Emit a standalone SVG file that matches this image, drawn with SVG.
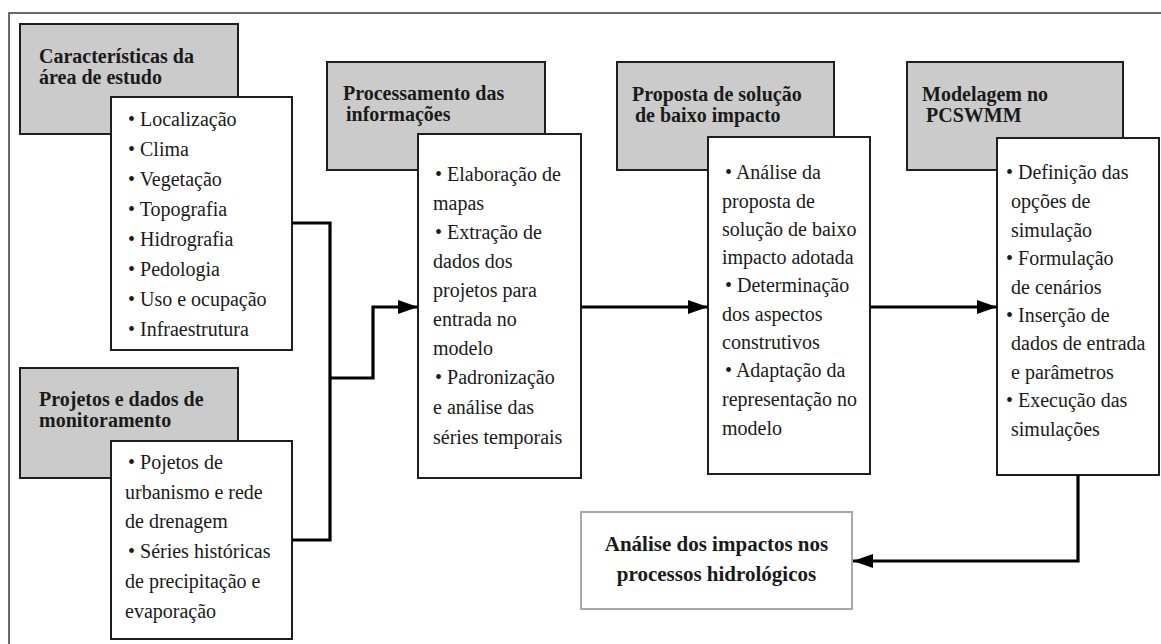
<svg xmlns="http://www.w3.org/2000/svg" width="1161" height="644" viewBox="0 0 1161 644">
<style>
.frame{fill:#fff;stroke:#3a3a3a;stroke-width:1.5}
.g{fill:#cbcbcb;stroke:#1e1e1e;stroke-width:2}
.w{fill:#fff;stroke:#1e1e1e;stroke-width:2}
.wf{fill:#fff;stroke:#a8a8a8;stroke-width:2}
text{font-family:'Liberation Serif','DejaVu Serif','Times New Roman',serif;fill:#1a1a1a}
.t{font-weight:bold;font-size:20px}
.b{font-size:20px}
.c{fill:none;stroke:#000;stroke-width:3.2}
</style>
<defs>
<marker id="ah" markerUnits="userSpaceOnUse" markerWidth="22" markerHeight="16" refX="20" refY="7" orient="auto">
<path d="M0,0 L20,7 L0,14 z" fill="#000"/>
</marker>
</defs>
<rect class="frame" x="9" y="13" width="1200" height="700"/>

<g id="caracteristicas">
<rect class="g" x="20" y="24" width="218" height="110"/>
<text class="t" x="39" y="63">Características da</text>
<text class="t" x="39" y="84">área de estudo</text>
<rect class="w" x="111" y="97" width="181" height="253"/>
<text class="b" x="128" y="126">• Localização</text>
<text class="b" x="128" y="156">• Clima</text>
<text class="b" x="128" y="186">• Vegetação</text>
<text class="b" x="128" y="216">• Topografia</text>
<text class="b" x="128" y="246">• Hidrografia</text>
<text class="b" x="128" y="276">• Pedologia</text>
<text class="b" x="128" y="306">• Uso e ocupação</text>
<text class="b" x="128" y="336">• Infraestrutura</text>
</g>

<g id="projetos">
<rect class="g" x="20" y="368" width="218" height="110"/>
<text class="t" x="39" y="406">Projetos e dados de</text>
<text class="t" x="39" y="427">monitoramento</text>
<rect class="w" x="111" y="441" width="181" height="198"/>
<text class="b" x="128" y="469">• Pojetos de</text>
<text class="b" x="125" y="499">urbanismo e rede</text>
<text class="b" x="125" y="528">de drenagem</text>
<text class="b" x="128" y="558">• Séries históricas</text>
<text class="b" x="125" y="588">de precipitação e</text>
<text class="b" x="125" y="618">evaporação</text>
</g>

<g id="processamento">
<rect class="g" x="327" y="62" width="218" height="108"/>
<text class="t" x="343" y="100">Processamento das</text>
<text class="t" x="346" y="121">informações</text>
<rect class="w" x="418" y="134" width="163" height="344"/>
<text class="b" x="435" y="181">• Elaboração de</text>
<text class="b" x="433" y="210">mapas</text>
<text class="b" x="435" y="239">• Extração de</text>
<text class="b" x="433" y="268">dados dos</text>
<text class="b" x="433" y="297">projetos para</text>
<text class="b" x="433" y="326">entrada no</text>
<text class="b" x="433" y="355">modelo</text>
<text class="b" x="435" y="384">• Padronização</text>
<text class="b" x="433" y="414">e análise das</text>
<text class="b" x="433" y="444">séries temporais</text>
</g>

<g id="proposta">
<rect class="g" x="617" y="62" width="217" height="108"/>
<text class="t" x="632" y="101">Proposta de solução</text>
<text class="t" x="635" y="122">de baixo impacto</text>
<rect class="w" x="708" y="137" width="162" height="337"/>
<text class="b" x="725" y="179">• Análise da</text>
<text class="b" x="722" y="208">proposta de</text>
<text class="b" x="722" y="236">solução de baixo</text>
<text class="b" x="722" y="264">impacto adotada</text>
<text class="b" x="725" y="292">• Determinação</text>
<text class="b" x="722" y="321">dos aspectos</text>
<text class="b" x="722" y="349">construtivos</text>
<text class="b" x="725" y="377">• Adaptação da</text>
<text class="b" x="722" y="406">representação no</text>
<text class="b" x="722" y="435">modelo</text>
</g>

<g id="modelagem">
<rect class="g" x="907" y="62" width="216" height="108"/>
<text class="t" x="922" y="101">Modelagem no</text>
<text class="t" x="926" y="122">PCSWMM</text>
<rect class="w" x="997" y="138" width="162" height="337"/>
<text class="b" x="1006" y="179">• Definição das</text>
<text class="b" x="1011" y="208">opções de</text>
<text class="b" x="1011" y="237">simulação</text>
<text class="b" x="1006" y="265">• Formulação</text>
<text class="b" x="1011" y="294">de cenários</text>
<text class="b" x="1006" y="322">• Inserção de</text>
<text class="b" x="1011" y="350">dados de entrada</text>
<text class="b" x="1011" y="379">e parâmetros</text>
<text class="b" x="1006" y="407">• Execução das</text>
<text class="b" x="1011" y="436">simulações</text>
</g>

<g id="analise">
<rect class="wf" x="581" y="512" width="271" height="97"/>
<text class="t" x="716.5" y="551" text-anchor="middle" style="font-size:21px">Análise dos impactos nos</text>
<text class="t" x="716.5" y="581" text-anchor="middle" style="font-size:21px">processos hidrológicos</text>
</g>

<g id="connectors">
<path class="c" d="M292,223 H330 V540 H292"/>
<path class="c" d="M330,378 H373 V307 H418" marker-end="url(#ah)"/>
<path class="c" d="M581,307 H708" marker-end="url(#ah)"/>
<path class="c" d="M870,307 H997" marker-end="url(#ah)"/>
<path class="c" d="M1078,475 V561 H853" marker-end="url(#ah)"/>
</g>
</svg>
